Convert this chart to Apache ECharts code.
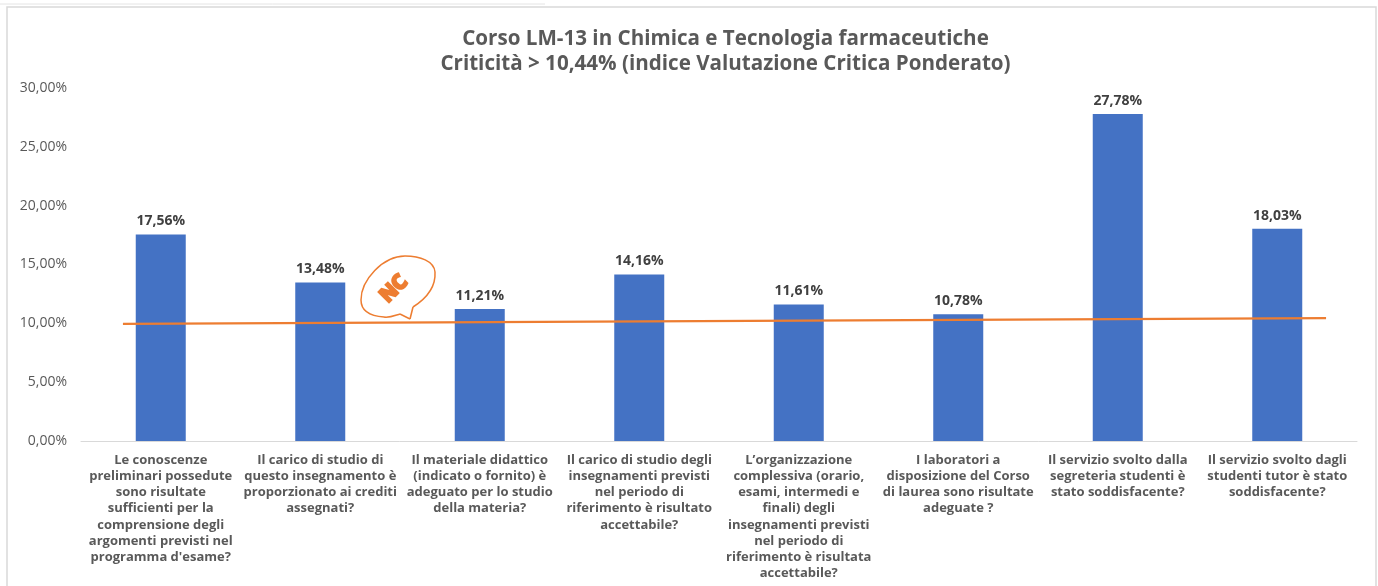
<!DOCTYPE html>
<html><head><meta charset="utf-8">
<style>html,body{margin:0;padding:0;background:#fff}#c{width:1378px;height:586px}</style>
<script src="https://cdn.jsdelivr.net/npm/echarts@6/dist/echarts.min.js"></script>
</head><body><div id="c"></div>
<script>
const titleLines = ["Corso LM-13 in Chimica e Tecnologia farmaceutiche","Criticità > 10,44% (indice Valutazione Critica Ponderato)"];
const categories = [
 "Le conoscenze\npreliminari possedute\nsono risultate\nsufficienti per la\ncomprensione degli\nargomenti previsti nel\nprogramma d'esame?",
 "Il carico di studio di\nquesto insegnamento è\nproporzionato ai crediti\nassegnati?",
 "Il materiale didattico\n(indicato o fornito) è\nadeguato per lo studio\ndella materia?",
 "Il carico di studio degli\ninsegnamenti previsti\nnel periodo di\nriferimento è risultato\naccettabile?",
 "L’organizzazione\ncomplessiva (orario,\nesami, intermedi e\nfinali) degli\ninsegnamenti previsti\nnel periodo di\nriferimento è risultata\naccettabile?",
 "I laboratori a\ndisposizione del Corso\ndi laurea sono risultate\nadeguate ?",
 "Il servizio svolto dalla\nsegreteria studenti è\nstato soddisfacente?",
 "Il servizio svolto dagli\nstudenti tutor è stato\nsoddisfacente?"
];
const values = [17.56,13.48,11.21,14.16,11.61,10.78,27.78,18.03];
const thresholdLine = [[0.263,9.95],[7.806,10.44]];
const FONT = '"Open Sans", "DejaVu Sans", sans-serif';
const fmt = v => v.toFixed(2).replace('.',',') + '%';
const ORANGE = '#ed7d31';
const curve = (x1,y1,cpx1,cpy1,cpx2,cpy2,x2,y2) => ({type:'bezierCurve',silent:true,z:5,
  shape:{x1,y1,cpx1,cpy1,cpx2,cpy2,x2,y2},style:{fill:'none',stroke:ORANGE,lineWidth:1.5}});
const chart = echarts.init(document.getElementById('c'), null, {renderer:'canvas'});
chart.setOption({
  animation:false,
  backgroundColor:'#fff',
  title:{text:titleLines.join('\n'),left:720.5,top:22,textAlign:'center',
    textStyle:{fontFamily:FONT,fontSize:20.6,fontWeight:'bold',color:'#595959',lineHeight:25}},
  grid:{left:81,right:21,top:88,bottom:145,containLabel:false},
  xAxis:[
    {type:'category',data:categories,axisTick:{show:false},
     axisLine:{lineStyle:{color:'#d9d9d9',width:1}},
     axisLabel:{interval:0,margin:11,fontFamily:FONT,fontSize:13,fontWeight:'bold',color:'#595959',lineHeight:16.2,align:'center'}},
    {type:'value',min:0,max:8,show:false}
  ],
  yAxis:{type:'value',min:0,max:30,interval:5,
    axisLine:{show:false},axisTick:{show:false},splitLine:{show:false},
    axisLabel:{margin:14,formatter:fmt,fontFamily:FONT,fontSize:14,color:'#595959'}},
  series:[
    {type:'bar',data:values,barWidth:50,itemStyle:{color:'#4472c4'},
     label:{show:true,position:'top',distance:6,formatter:p=>fmt(p.value),fontFamily:FONT,fontSize:14,fontWeight:'bold',color:'#404040'}},
    {type:'line',xAxisIndex:1,data:thresholdLine,symbol:'none',silent:true,
     lineStyle:{color:ORANGE,width:2.4}}
  ],
  graphic:[
    {type:'rect',silent:true,shape:{x:7,y:7,width:1369,height:600},style:{fill:'none',stroke:'#d9d9d9',lineWidth:1.5},z:-1},
    {type:'line',silent:true,shape:{x1:0,y1:4,x2:545,y2:4},style:{stroke:'#e4e4e4',lineWidth:1}},
    {type:'line',silent:true,z:5,shape:{x1:410,y1:319,x2:413,y2:307},style:{stroke:ORANGE,lineWidth:1.5}},
    curve(413,307,424,300,436,288,435,272),
    curve(435,272,434,261,420,256,405,256),
    curve(405,256,383,256,361,280,361,300),
    curve(361,300,361,311,370,316,384,317),
    curve(384,317,390,318,396,315,400,314),
    {type:'line',silent:true,z:5,shape:{x1:400,y1:314,x2:410,y2:319},style:{stroke:ORANGE,lineWidth:1.5}},
    {type:'text',silent:true,x:394,y:289,rotation:Math.PI/4,z:6,
     style:{text:'NC',fontFamily:FONT,fontSize:20,fontWeight:'bold',fill:ORANGE,stroke:ORANGE,lineWidth:2.5,align:'center',verticalAlign:'middle'}}
  ]
});
</script></body></html>
